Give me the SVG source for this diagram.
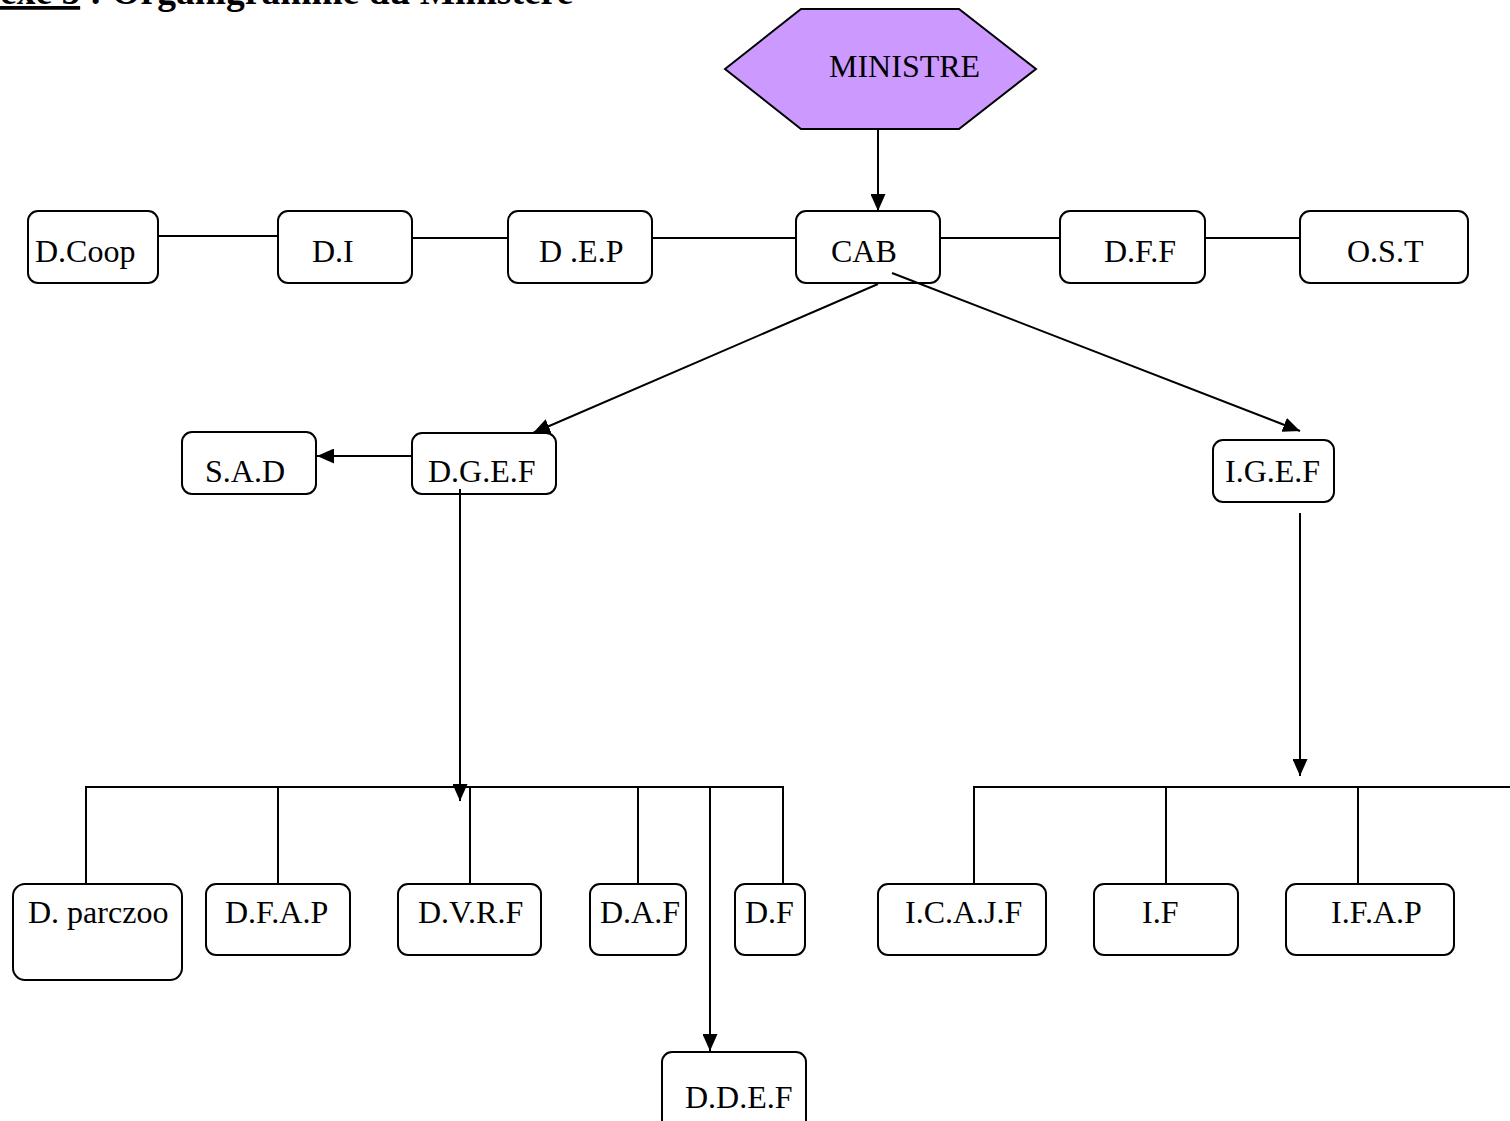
<svg xmlns="http://www.w3.org/2000/svg" width="1510" height="1121" viewBox="0 0 1510 1121">
<style>
.box{fill:#fff;stroke:#000;stroke-width:2}
.lbl{font-family:"Liberation Serif","Times New Roman",serif;font-size:32px;fill:#000}
.ln{fill:none;stroke:#000;stroke-width:2}
.title{font-family:"Liberation Serif","Times New Roman",serif;font-size:37.5px;font-weight:bold;fill:#000}
</style>
<defs>
<marker id="ah" markerUnits="userSpaceOnUse" markerWidth="17" markerHeight="15" refX="17" refY="7.5" orient="auto">
<path d="M0,0 L17,7.5 L0,15 z" fill="#000"/>
</marker>
</defs>
<rect width="1510" height="1121" fill="#fff"/>
<text class="title" x="0" y="4"><tspan text-decoration="underline">exe 5</tspan> : Organigramme du Ministère</text>

<g id="ministre">
<polygon points="725,69 801,9 959,9 1036,69 959,129 801,129" fill="#CC99FF" stroke="#000" stroke-width="2"/>
<text class="lbl" x="829" y="77">MINISTRE</text>
</g>
<g id="dcoop"><rect class="box" x="28" y="211" width="130" height="72" rx="10"/><text class="lbl" x="35" y="262">D.Coop</text></g>
<g id="di"><rect class="box" x="278" y="211" width="134" height="72" rx="10"/><text class="lbl" x="312" y="262">D.I</text></g>
<g id="dep"><rect class="box" x="508" y="211" width="144" height="72" rx="10"/><text class="lbl" x="539" y="262">D .E.P</text></g>
<g id="cab"><rect class="box" x="796" y="211" width="144" height="72" rx="10"/><text class="lbl" x="831" y="262">CAB</text></g>
<g id="dff"><rect class="box" x="1060" y="211" width="145" height="72" rx="10"/><text class="lbl" x="1104" y="262">D.F.F</text></g>
<g id="ost"><rect class="box" x="1300" y="211" width="168" height="72" rx="10"/><text class="lbl" x="1347" y="262">O.S.T</text></g>

<g id="sad"><rect class="box" x="182" y="432" width="134" height="62" rx="10"/><text class="lbl" x="205" y="482">S.A.D</text></g>
<g id="dgef"><rect class="box" x="412" y="433" width="144" height="61" rx="10"/><text class="lbl" x="428" y="482">D.G.E.F</text></g>
<g id="igef"><rect class="box" x="1213" y="440" width="121" height="62" rx="10"/><text class="lbl" x="1225" y="482">I.G.E.F</text></g>

<g id="dparczoo"><rect class="box" x="13" y="884" width="169" height="96" rx="12"/><text class="lbl" x="28" y="923">D. parczoo</text></g>
<g id="dfap"><rect class="box" x="206" y="884" width="144" height="71" rx="10"/><text class="lbl" x="225" y="923">D.F.A.P</text></g>
<g id="dvrf"><rect class="box" x="398" y="884" width="143" height="71" rx="10"/><text class="lbl" x="418" y="923">D.V.R.F</text></g>
<g id="daf"><rect class="box" x="590" y="884" width="96" height="71" rx="10"/><text class="lbl" x="600" y="923">D.A.F</text></g>
<g id="df"><rect class="box" x="735" y="884" width="70" height="71" rx="10"/><text class="lbl" x="745" y="923">D.F</text></g>
<g id="ddef"><rect class="box" x="662" y="1052" width="144" height="80" rx="10"/><text class="lbl" x="685" y="1108">D.D.E.F</text></g>

<g id="icajf"><rect class="box" x="878" y="884" width="168" height="71" rx="10"/><text class="lbl" x="905" y="923">I.C.A.J.F</text></g>
<g id="if"><rect class="box" x="1094" y="884" width="144" height="71" rx="10"/><text class="lbl" x="1142" y="923">I.F</text></g>
<g id="ifap"><rect class="box" x="1286" y="884" width="168" height="71" rx="10"/><text class="lbl" x="1331" y="923">I.F.A.P</text></g>

<g id="connectors">
<path class="ln" d="M878,129 V211" marker-end="url(#ah)"/>
<path class="ln" d="M158,236 H277"/>
<path class="ln" d="M412,238 H508"/>
<path class="ln" d="M652,238 H796"/>
<path class="ln" d="M940,238 H1060"/>
<path class="ln" d="M1205,238 H1300"/>
<path class="ln" d="M878,284 L533,433" marker-end="url(#ah)"/>
<path class="ln" d="M892,273 L1300,431" marker-end="url(#ah)"/>
<path class="ln" d="M412,456 H317" marker-end="url(#ah)"/>
<path class="ln" d="M460,489 V801" marker-end="url(#ah)"/>
<path class="ln" d="M86,884 V787 H783 V884"/>
<path class="ln" d="M278,787 V884"/>
<path class="ln" d="M470,787 V884"/>
<path class="ln" d="M638,787 V884"/>
<path class="ln" d="M710,787 V1051" marker-end="url(#ah)"/>
<path class="ln" d="M1300,513 V776" marker-end="url(#ah)"/>
<path class="ln" d="M974,884 V787 H1512"/>
<path class="ln" d="M1166,787 V884"/>
<path class="ln" d="M1358,787 V884"/>
</g>
</svg>
